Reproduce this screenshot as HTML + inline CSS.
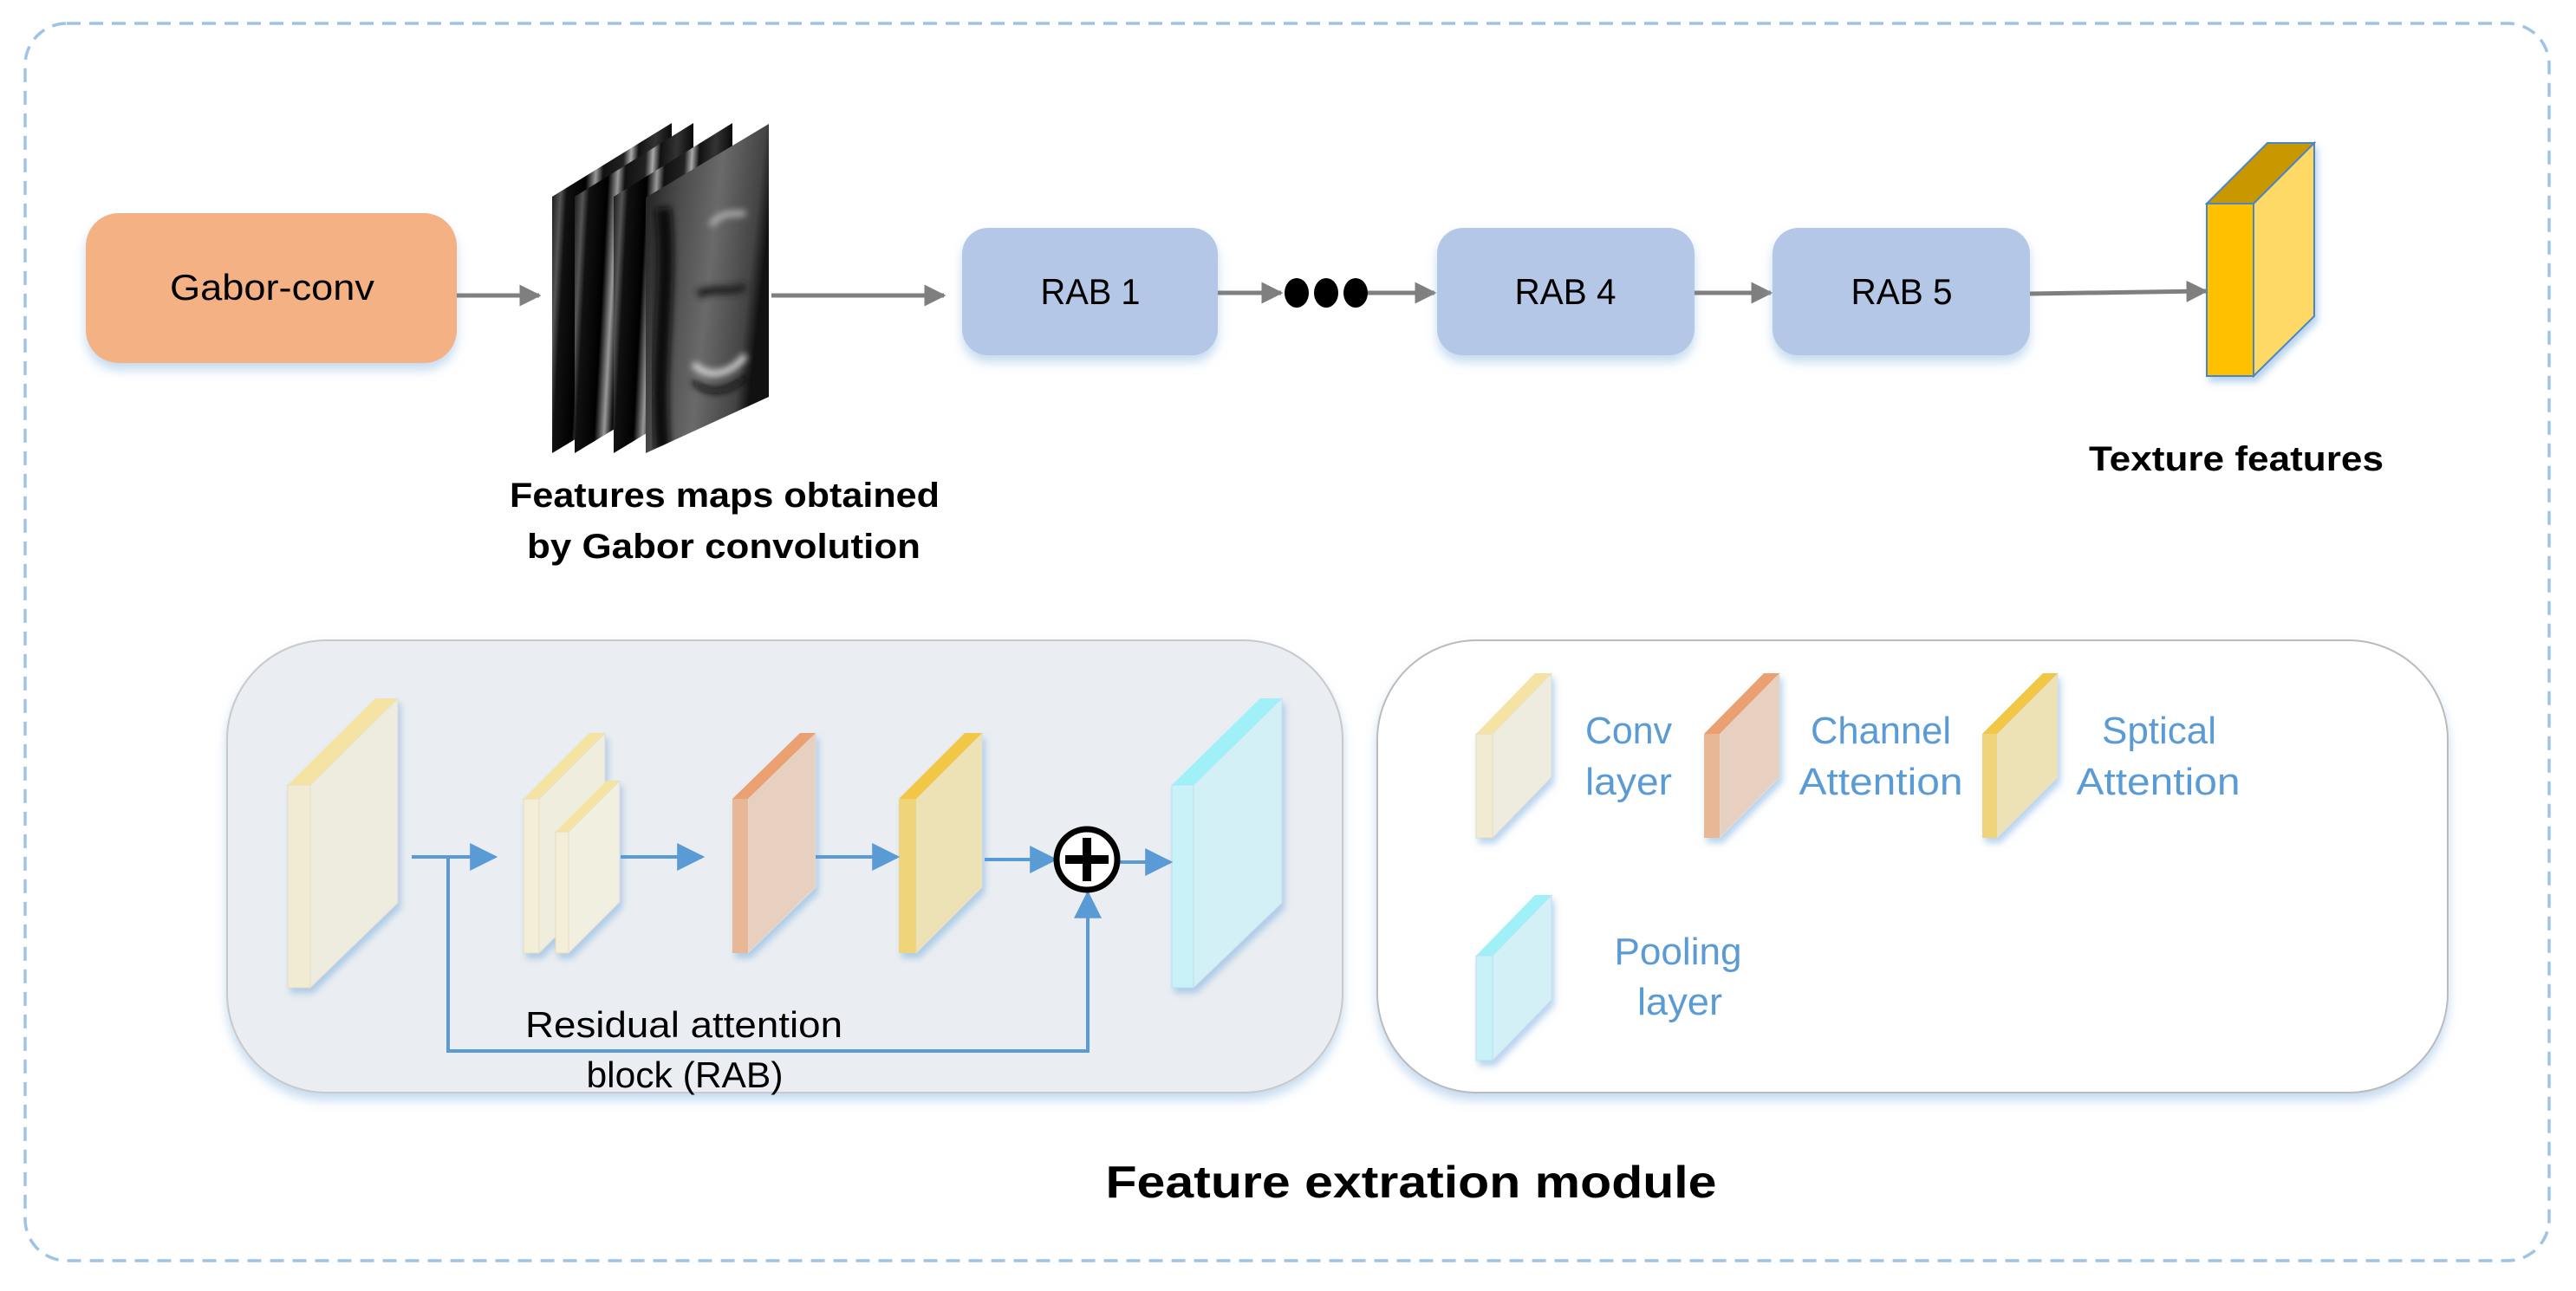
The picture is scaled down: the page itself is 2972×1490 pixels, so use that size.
<!DOCTYPE html>
<html><head><meta charset="utf-8"><style>
html,body{margin:0;padding:0;background:#fff;}
svg{display:block;}
text{font-family:"Liberation Sans",sans-serif;}
</style></head><body>
<svg width="2972" height="1490" viewBox="0 0 2972 1490" xmlns="http://www.w3.org/2000/svg">
<defs>
<filter id="sh" x="-10%" y="-10%" width="120%" height="130%"><feDropShadow dx="0" dy="8" stdDeviation="6" flood-color="#9dc3e6" flood-opacity="0.6"/></filter>
<filter id="sh2" x="-20%" y="-10%" width="140%" height="130%"><feDropShadow dx="3" dy="6" stdDeviation="4" flood-color="#6fa8dc" flood-opacity="0.5"/></filter>
<filter id="bl"><feGaussianBlur stdDeviation="4"/></filter>
<marker id="ag" viewBox="0 0 10 10" refX="9" refY="5" markerWidth="5" markerHeight="5" orient="auto"><path d="M0,0 L10,5 L0,10 z" fill="#7f7f7f"/></marker>
<marker id="ab" viewBox="0 0 10 10" refX="9" refY="5" markerWidth="8" markerHeight="8" orient="auto"><path d="M0,0 L10,5 L0,10 z" fill="#5b9bd5"/></marker>
<linearGradient id="st1" x1="0" x2="1" y1="0" y2="0.15">
<stop offset="0" stop-color="#050505"/><stop offset="0.1" stop-color="#555"/><stop offset="0.15" stop-color="#111"/><stop offset="0.3" stop-color="#000"/><stop offset="0.38" stop-color="#999"/><stop offset="0.44" stop-color="#111"/><stop offset="0.6" stop-color="#222"/><stop offset="0.66" stop-color="#aaa"/><stop offset="0.72" stop-color="#111"/><stop offset="0.85" stop-color="#333"/><stop offset="1" stop-color="#050505"/>
</linearGradient>
<linearGradient id="face" x1="0" x2="1" y1="0" y2="0.3">
<stop offset="0" stop-color="#1a1a1a"/><stop offset="0.3" stop-color="#4a4a4a"/><stop offset="0.6" stop-color="#6a6a6a"/><stop offset="0.9" stop-color="#444"/><stop offset="1" stop-color="#111"/>
</linearGradient>
<clipPath id="fc"><polygon points="745,523 745,228 887,143 887,458"/></clipPath>
</defs>

<rect x="29" y="27" width="2912" height="1428" rx="48" fill="none" stroke="#9dc3e6" stroke-width="3.5" stroke-dasharray="16,10"/>

<rect x="99" y="246" width="428" height="173" rx="38" fill="#f4b183" filter="url(#sh)"/>
<text x="314" y="346" font-size="42" text-anchor="middle" textLength="236" lengthAdjust="spacingAndGlyphs" fill="#000">Gabor-conv</text>
<line x1="527" y1="341" x2="622" y2="341" stroke="#7f7f7f" stroke-width="5" marker-end="url(#ag)"/>

<g>
<polygon points="637,523 637,227 775,142 775,440" fill="url(#st1)"/>
<polygon points="663,523 663,227 800,142 800,440" fill="url(#st1)"/>
<polygon points="708,523 708,227 845,142 845,440" fill="url(#st1)"/>
<polygon points="745,523 745,228 887,143 887,458" fill="url(#face)"/>
<g clip-path="url(#fc)" filter="url(#bl)">
<path d="M765,240 C775,330 755,420 765,520" stroke="#0a0a0a" stroke-width="18" fill="none"/>
<path d="M820,260 C835,240 850,250 860,245" stroke="#bbb" stroke-width="6" fill="none"/>
<path d="M805,340 C825,330 845,340 860,330" stroke="#222" stroke-width="10" fill="none"/>
<path d="M800,420 C820,440 845,430 860,410" stroke="#ddd" stroke-width="7" fill="none"/>
<path d="M800,440 C820,460 845,450 860,435" stroke="#111" stroke-width="6" fill="none"/>
</g>
</g>
<line x1="890" y1="341" x2="1089" y2="341" stroke="#7f7f7f" stroke-width="5" marker-end="url(#ag)"/>
<text x="836" y="585" font-size="40" font-weight="bold" text-anchor="middle" textLength="496" lengthAdjust="spacingAndGlyphs">Features maps obtained</text>
<text x="835" y="644" font-size="40" font-weight="bold" text-anchor="middle" textLength="454" lengthAdjust="spacingAndGlyphs">by  Gabor convolution</text>

<rect x="1110" y="263" width="295" height="147" rx="30" fill="#b4c7e7" filter="url(#sh)"/>
<text x="1258" y="351" font-size="42" text-anchor="middle" textLength="115" lengthAdjust="spacingAndGlyphs">RAB 1</text>
<line x1="1405" y1="338" x2="1478" y2="338" stroke="#7f7f7f" stroke-width="5" marker-end="url(#ag)"/>
<ellipse cx="1496" cy="338" rx="14" ry="17" fill="#000"/>
<ellipse cx="1530" cy="338" rx="14" ry="17" fill="#000"/>
<ellipse cx="1564" cy="338" rx="14" ry="17" fill="#000"/>
<line x1="1578" y1="338" x2="1655" y2="338" stroke="#7f7f7f" stroke-width="5" marker-end="url(#ag)"/>
<rect x="1658" y="263" width="297" height="147" rx="30" fill="#b4c7e7" filter="url(#sh)"/>
<text x="1806" y="351" font-size="42" text-anchor="middle" textLength="117" lengthAdjust="spacingAndGlyphs">RAB 4</text>
<line x1="1955" y1="338" x2="2043" y2="338" stroke="#7f7f7f" stroke-width="5" marker-end="url(#ag)"/>
<rect x="2045" y="263" width="297" height="147" rx="30" fill="#b4c7e7" filter="url(#sh)"/>
<text x="2194" y="351" font-size="42" text-anchor="middle" textLength="117" lengthAdjust="spacingAndGlyphs">RAB 5</text>
<line x1="2342" y1="339" x2="2545" y2="336" stroke="#7f7f7f" stroke-width="5" marker-end="url(#ag)"/>

<g stroke="#4a86c5" stroke-width="2" filter="url(#sh2)">
<polygon points="2546,235 2616,165 2670,165 2600,235" fill="#c99800"/>
<polygon points="2600,235 2670,165 2670,365 2600,434" fill="#ffd966"/>
<rect x="2546" y="235" width="54" height="199" fill="#ffc000"/>
</g>
<text x="2580" y="543" font-size="40" font-weight="bold" text-anchor="middle" textLength="340" lengthAdjust="spacingAndGlyphs">Texture features</text>

<rect x="262" y="739" width="1287" height="522" rx="115" fill="#eaeef2" stroke="#c9c9c9" stroke-width="2" filter="url(#sh)"/>
<g filter="url(#sh2)">
<polygon points="358,906 459,806 459,1042 358,1140" fill="#eeecdf" stroke="#ddd"/>
<polygon points="332,906 433,806 459,806 358,906" fill="#f5e3a3"/>
<rect x="332" y="906" width="26" height="234" fill="#f2ebd3" stroke="#e6dcc0"/>
</g>
<g filter="url(#sh2)">
<polygon points="622,922 698,846 698,1024 622,1100" fill="#efedde" stroke="#ddd"/>
<polygon points="604,922 680,846 698,846 622,922" fill="#f5e3a3"/>
<rect x="604" y="922" width="18" height="178" fill="#f3eed8" stroke="#e6dcc0"/>
<polygon points="656,960 715,901 715,1041 656,1100" fill="#f1efe0" stroke="#ddd"/>
<polygon points="641,960 700,901 715,901 656,960" fill="#f5e3a3"/>
<rect x="641" y="960" width="15" height="140" fill="#f3eed8" stroke="#e6dcc0"/>
</g>
<g filter="url(#sh2)">
<polygon points="863,922 941,846 941,1024 863,1100" fill="#e8d0c0" stroke="#ddd"/>
<polygon points="845,922 923,846 941,846 863,922" fill="#eaa070"/>
<rect x="845" y="922" width="18" height="178" fill="#e8b896"/>
</g>
<g filter="url(#sh2)">
<polygon points="1057,922 1133,846 1133,1024 1057,1100" fill="#ede2b5" stroke="#ddd"/>
<polygon points="1037,922 1113,846 1133,846 1057,922" fill="#f2c744"/>
<rect x="1037" y="922" width="20" height="178" fill="#f0d47a"/>
</g>
<g filter="url(#sh2)">
<polygon points="1377,906 1479,806 1479,1042 1377,1140" fill="#d3f0f6" stroke="#cde"/>
<polygon points="1352,906 1454,806 1479,806 1377,906" fill="#a0f0f8"/>
<rect x="1352" y="906" width="25" height="234" fill="#c8f2f8" stroke="#bde"/>
</g>
<g stroke="#5b9bd5" stroke-width="4" fill="none">
<line x1="475" y1="989" x2="571" y2="989" marker-end="url(#ab)"/>
<line x1="716" y1="989" x2="810" y2="989" marker-end="url(#ab)"/>
<line x1="941" y1="989" x2="1035" y2="989" marker-end="url(#ab)"/>
<line x1="1136" y1="992" x2="1217" y2="992" marker-end="url(#ab)"/>
<line x1="1291" y1="995" x2="1350" y2="995" marker-end="url(#ab)"/>
<polyline points="517,989 517,1213 1255,1213 1255,1031" marker-end="url(#ab)"/>
</g>
<circle cx="1254" cy="992" r="35" fill="#fff" stroke="#000" stroke-width="7"/>
<rect x="1249" y="967" width="10" height="50" fill="#000"/>
<rect x="1229" y="987" width="50" height="10" fill="#000"/>
<text x="789" y="1197" font-size="42" text-anchor="middle" textLength="366" lengthAdjust="spacingAndGlyphs">Residual attention</text>
<text x="790" y="1255" font-size="42" text-anchor="middle" textLength="227" lengthAdjust="spacingAndGlyphs">block (RAB)</text>

<rect x="1589" y="739" width="1235" height="522" rx="115" fill="#fff" stroke="#bbb" stroke-width="2" filter="url(#sh)"/>
<g filter="url(#sh2)">
<polygon points="1722,847 1790,777 1790,897 1722,967" fill="#eeecdf" stroke="#ddd"/>
<polygon points="1703,847 1771,777 1790,777 1722,847" fill="#f5e3a3"/>
<rect x="1703" y="847" width="19" height="120" fill="#f2ebd3" stroke="#e6dcc0"/>
</g>
<g filter="url(#sh2)">
<polygon points="1984,847 2053,777 2053,897 1984,967" fill="#e8d0c0" stroke="#ddd"/>
<polygon points="1966,847 2035,777 2053,777 1984,847" fill="#eaa070"/>
<rect x="1966" y="847" width="18" height="120" fill="#e8b896"/>
</g>
<g filter="url(#sh2)">
<polygon points="2304,847 2374,777 2374,897 2304,967" fill="#ede2b5" stroke="#ddd"/>
<polygon points="2287,847 2357,777 2374,777 2304,847" fill="#f2c744"/>
<rect x="2287" y="847" width="17" height="120" fill="#f0d47a"/>
</g>
<g filter="url(#sh2)">
<polygon points="1722,1103 1790,1033 1790,1154 1722,1224" fill="#d3f0f6" stroke="#cde"/>
<polygon points="1703,1103 1771,1033 1790,1033 1722,1103" fill="#a0f0f8"/>
<rect x="1703" y="1103" width="19" height="121" fill="#c8f2f8" stroke="#bde"/>
</g>
<g fill="#5b9bd5" font-size="44" text-anchor="middle">
<text x="1879" y="858" textLength="100" lengthAdjust="spacingAndGlyphs">Conv</text>
<text x="1879" y="917" textLength="100" lengthAdjust="spacingAndGlyphs">layer</text>
<text x="2170" y="858" textLength="162" lengthAdjust="spacingAndGlyphs">Channel</text>
<text x="2170" y="917" textLength="189" lengthAdjust="spacingAndGlyphs">Attention</text>
<text x="2491" y="858" textLength="132" lengthAdjust="spacingAndGlyphs">Sptical</text>
<text x="2490" y="917" textLength="189" lengthAdjust="spacingAndGlyphs">Attention</text>
<text x="1936" y="1113" textLength="147" lengthAdjust="spacingAndGlyphs">Pooling</text>
<text x="1938" y="1171" textLength="98" lengthAdjust="spacingAndGlyphs">layer</text>
</g>

<text x="1628" y="1382" font-size="52" font-weight="bold" text-anchor="middle" textLength="705" lengthAdjust="spacingAndGlyphs">Feature extration module</text>
</svg>
</body></html>
